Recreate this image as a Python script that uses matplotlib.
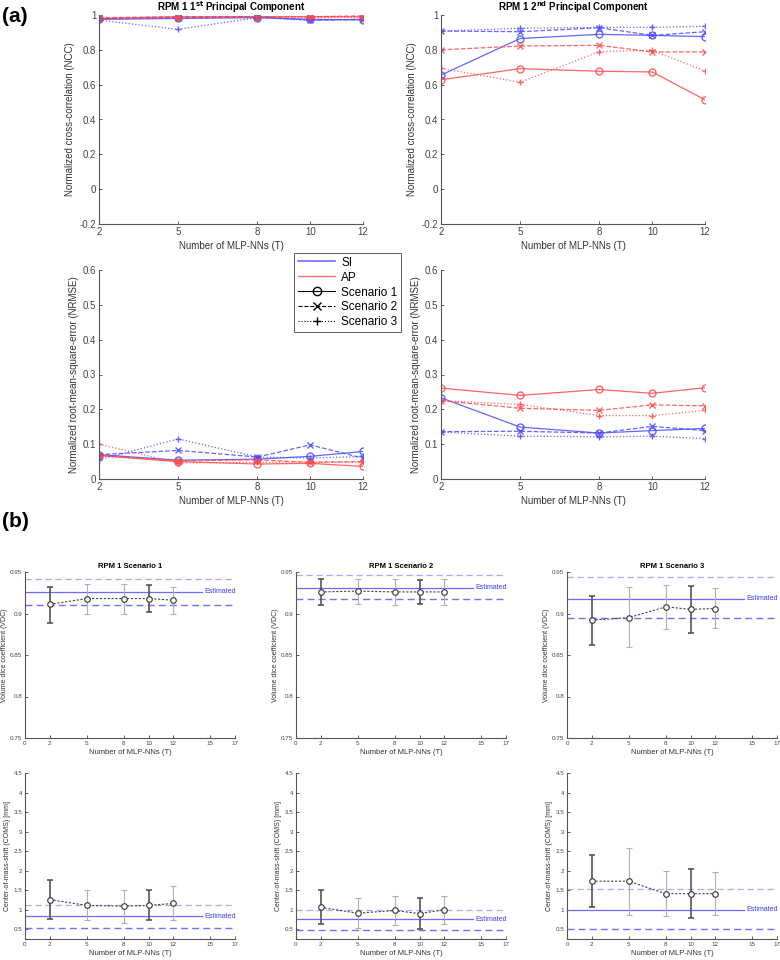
import matplotlib
matplotlib.use('Agg')
import matplotlib.pyplot as plt
from matplotlib.lines import Line2D

plt.rcParams['font.family'] = ['Liberation Sans', 'DejaVu Sans']

T = [2, 5, 8, 10, 12]
scen_names = ['Scenario 1', 'Scenario 2', 'Scenario 3']

# (a) values, one row per scenario
ncc1_si = [[0.975, 0.980, 0.985, 0.975, 0.972],
           [0.980, 0.985, 0.990, 0.970, 0.975],
           [0.970, 0.918, 0.985, 0.970, 0.975]]
ncc1_ap = [[0.980, 0.990, 0.990, 0.990, 0.990],
           [0.985, 0.990, 0.990, 0.990, 0.995],
           [0.975, 0.985, 0.990, 0.985, 0.985]]
ncc2_si = [[0.655, 0.865, 0.889, 0.883, 0.876],
           [0.908, 0.904, 0.927, 0.883, 0.904],
           [0.908, 0.924, 0.929, 0.929, 0.935]]
ncc2_ap = [[0.628, 0.692, 0.677, 0.673, 0.513],
           [0.800, 0.822, 0.826, 0.788, 0.788],
           [0.694, 0.614, 0.790, 0.797, 0.679]]
nrmse1_si = [[0.070, 0.054, 0.057, 0.065, 0.079],
             [0.070, 0.082, 0.063, 0.098, 0.060],
             [0.055, 0.115, 0.063, 0.060, 0.065]]
nrmse1_ap = [[0.067, 0.050, 0.043, 0.045, 0.036],
             [0.068, 0.052, 0.055, 0.048, 0.050],
             [0.100, 0.046, 0.048, 0.048, 0.048]]
nrmse2_si = [[0.233, 0.149, 0.132, 0.139, 0.145],
             [0.136, 0.137, 0.132, 0.151, 0.139],
             [0.135, 0.123, 0.121, 0.123, 0.116]]
nrmse2_ap = [[0.261, 0.240, 0.257, 0.246, 0.262],
             [0.225, 0.203, 0.197, 0.213, 0.210],
             [0.225, 0.214, 0.182, 0.182, 0.197]]

# (b) values: mean, lower, upper, estimated line and its two dashed bounds
vdc_mean = [[0.911, 0.918, 0.918, 0.918, 0.916],
            [0.926, 0.927, 0.926, 0.926, 0.926],
            [0.892, 0.895, 0.908, 0.905, 0.906]]
vdc_low = [[0.889, 0.900, 0.900, 0.902, 0.899],
           [0.910, 0.911, 0.910, 0.911, 0.910],
           [0.862, 0.860, 0.881, 0.876, 0.882]]
vdc_high = [[0.932, 0.935, 0.936, 0.934, 0.932],
            [0.941, 0.941, 0.941, 0.940, 0.941],
            [0.921, 0.932, 0.934, 0.933, 0.931]]
vdc_est = [0.926, 0.931, 0.918]
vdc_est_hi = [0.941, 0.946, 0.944]
vdc_est_lo = [0.910, 0.917, 0.894]

coms_mean = [[1.26, 1.11, 1.09, 1.11, 1.16],
             [1.06, 0.91, 0.98, 0.90, 1.00],
             [1.73, 1.73, 1.41, 1.41, 1.41]]
coms_low = [[0.76, 0.73, 0.66, 0.73, 0.73],
            [0.64, 0.53, 0.61, 0.51, 0.63],
            [1.07, 0.86, 0.83, 0.80, 0.86]]
coms_high = [[1.76, 1.50, 1.50, 1.50, 1.61],
             [1.50, 1.30, 1.36, 1.30, 1.36],
             [2.40, 2.59, 2.00, 2.03, 1.97]]
coms_est = [0.83, 0.75, 1.00]
coms_est_hi = [1.12, 1.00, 1.53]
coms_est_lo = [0.53, 0.48, 0.50]

BLUE = '#4a4aff'
RED = '#ff4a4a'
styles = [('-', 'o'), ('--', 'x'), (':', '+')]


def matlab_axes(ax, fs):
    ax.spines['top'].set_visible(False)
    ax.spines['right'].set_visible(False)
    for s in ['left', 'bottom']:
        ax.spines[s].set_color('#555555')
        ax.spines[s].set_linewidth(0.8)
    ax.tick_params(direction='in', labelsize=fs, colors='#444444', length=2.5, width=0.6, pad=2)


def panel_a(rect, si, ap, title, ylabel, ylim, yticks, ylabels):
    ax = fig.add_axes(rect)
    for k, (ls, mk) in enumerate(styles):
        ax.plot(T, si[k], color=BLUE, ls=ls, marker=mk, ms=5, mfc='none', lw=0.9, alpha=0.85)
        ax.plot(T, ap[k], color=RED, ls=ls, marker=mk, ms=5, mfc='none', lw=0.9, alpha=0.85)
    ax.set_xlim(2, 12)
    ax.set_ylim(*ylim)
    ax.set_xticks(T)
    ax.set_yticks(yticks)
    ax.set_yticklabels(ylabels)
    ax.set_xlabel('Number of MLP-NNs (T)', fontsize=7, color='#333333', labelpad=3)
    ax.set_ylabel(ylabel, fontsize=7, color='#333333', labelpad=3)
    if title:
        ax.set_title(title, fontsize=7, fontweight='bold', pad=1.5)
    matlab_axes(ax, 7)
    return ax


def panel_b(rect, mean, low, high, est, hi, lo, ylabel, ylim, yticks, ylabels, title=None):
    ax = fig.add_axes(rect)
    ax.axhline(hi, color='#a8a8ff', ls='--', lw=0.9, dashes=(5, 3))
    ax.axhline(lo, color='#7070ff', ls='--', lw=1.0, dashes=(5, 3))
    ax.plot([0, 14.3], [est, est], color='#6a6aff', lw=0.9)
    ax.text(14.5, est, 'Estimated', color='#3a3aff', fontsize=5, va='center', ha='left')
    ax.plot(T, mean, color='#444444', ls='--', lw=0.8, dashes=(2, 1.5))
    for i in range(len(T)):
        c = '#555555' if i in (0, 3) else '#b0b0b0'
        lw = 1.2 if i in (0, 3) else 0.8
        ax.errorbar(T[i], mean[i], yerr=[[mean[i] - low[i]], [high[i] - mean[i]]],
                    fmt='none', ecolor=c, elinewidth=lw, capsize=2, capthick=lw)
    ax.plot(T, mean, ls='none', marker='o', ms=4, mfc='white', mec='#333333', mew=0.8)
    ax.set_xlim(0, 17)
    ax.set_ylim(*ylim)
    ax.set_xticks([0, 2, 5, 8, 10, 12, 15, 17])
    ax.set_yticks(yticks)
    ax.set_yticklabels(ylabels)
    ax.set_xlabel('Number of MLP-NNs (T)', fontsize=5.5, color='#333333', labelpad=2)
    ax.set_ylabel(ylabel, fontsize=5, color='#333333', labelpad=1.5)
    if title:
        ax.set_title(title, fontsize=5.5, fontweight='bold', pad=3)
    matlab_axes(ax, 4.5)
    return ax


fig = plt.figure(figsize=(7.8, 9.6), dpi=100)

ncc_ticks = [-0.2, 0, 0.2, 0.4, 0.6, 0.8, 1]
ncc_labels = ['-0.2', '0', '0.2', '0.4', '0.6', '0.8', '1']
nrmse_ticks = [0, 0.1, 0.2, 0.3, 0.4, 0.5, 0.6]
nrmse_labels = ['0', '0.1', '0.2', '0.3', '0.4', '0.5', '0.6']

w_a, h_a = 264 / 780, 209 / 960
panel_a([99 / 780, 1 - 224 / 960, w_a, h_a], ncc1_si, ncc1_ap,
        r'RPM 1 1$^{\mathbf{st}}$ Principal Component',
        'Normalized cross-correlation (NCC)', (-0.2, 1), ncc_ticks, ncc_labels)
panel_a([441 / 780, 1 - 224 / 960, w_a, h_a], ncc2_si, ncc2_ap,
        r'RPM 1 2$^{\mathbf{nd}}$ Principal Component',
        'Normalized cross-correlation (NCC)', (-0.2, 1), ncc_ticks, ncc_labels)
ax_leg = panel_a([99 / 780, 1 - 479 / 960, w_a, h_a], nrmse1_si, nrmse1_ap, None,
                 'Normalized root-mean-square-error (NRMSE)', (0, 0.6), nrmse_ticks, nrmse_labels)
panel_a([441 / 780, 1 - 479 / 960, w_a, h_a], nrmse2_si, nrmse2_ap, None,
        'Normalized root-mean-square-error (NRMSE)', (0, 0.6), nrmse_ticks, nrmse_labels)

handles = [Line2D([], [], color=BLUE, lw=1.2, alpha=0.8),
           Line2D([], [], color=RED, lw=1.0, alpha=0.8)]
for ls, mk in styles:
    handles.append(Line2D([], [], color='black', ls=ls, marker=mk, ms=6, mfc='none', lw=0.8))
leg = ax_leg.legend(handles, ['SI', 'AP'] + scen_names, loc='upper left',
                    bbox_to_anchor=(0.739, 1.081), borderaxespad=0, fontsize=8.5,
                    frameon=True, fancybox=False, edgecolor='#333333',
                    labelspacing=0.25, handlelength=3.2, borderpad=0.3, handletextpad=0.5)
leg.get_frame().set_linewidth(0.7)

fig.text(0.003, 0.993, '(a)', fontsize=15, fontweight='bold', va='top')
fig.text(0.003, 0.467, '(b)', fontsize=15, fontweight='bold', va='top')

w_b, h_b = 210 / 780, 166 / 960
lefts = [25 / 780, 296 / 780, 567 / 780]
vdc_ticks = [0.75, 0.8, 0.85, 0.9, 0.95]
vdc_labels = ['0.75', '0.8', '0.85', '0.9', '0.95']
coms_ticks = [0.5, 1, 1.5, 2, 2.5, 3, 3.5, 4, 4.5]
coms_labels = ['0.5', '1', '1.5', '2', '2.5', '3', '3.5', '4', '4.5']
for k in range(3):
    panel_b([lefts[k], 1 - 738 / 960, w_b, h_b], vdc_mean[k], vdc_low[k], vdc_high[k],
            vdc_est[k], vdc_est_hi[k], vdc_est_lo[k], 'Volume dice coefficient (VDC)',
            (0.75, 0.95), vdc_ticks, vdc_labels, title='RPM 1 ' + scen_names[k])
    panel_b([lefts[k], 1 - 939 / 960, w_b, h_b], coms_mean[k], coms_low[k], coms_high[k],
            coms_est[k], coms_est_hi[k], coms_est_lo[k], 'Center-of-mass-shift (COMS) [mm]',
            (0.25, 4.5), coms_ticks, coms_labels)

fig.savefig('out.png', dpi=100)
